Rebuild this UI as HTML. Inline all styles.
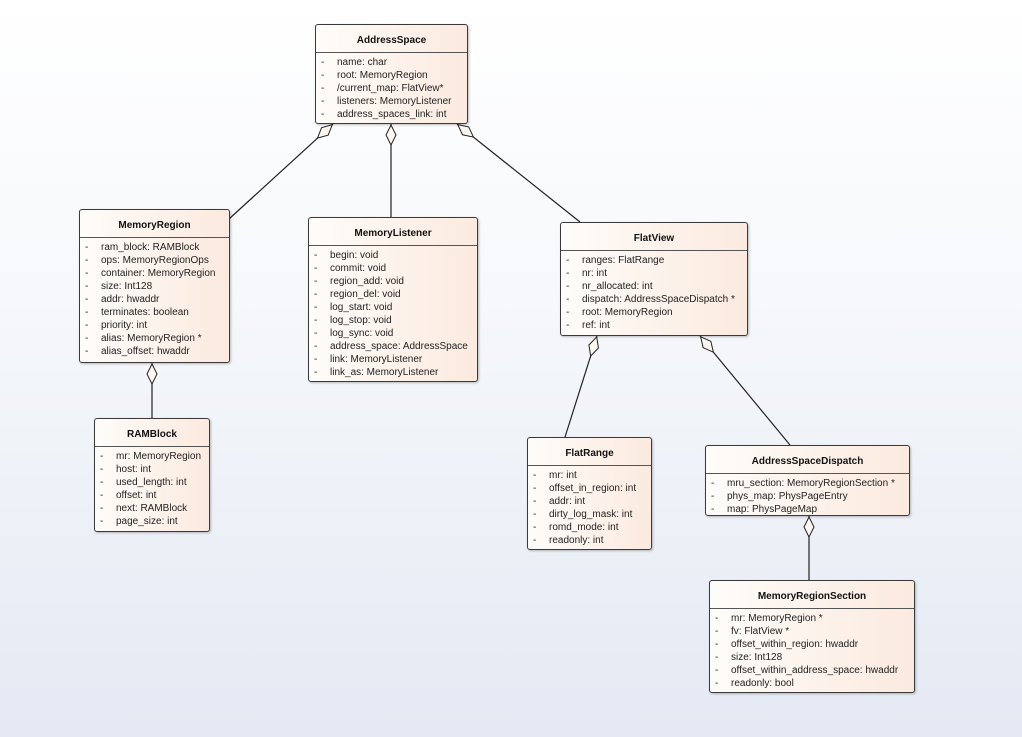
<!DOCTYPE html>
<html><head><meta charset="utf-8"><style>
html,body{margin:0;padding:0}
body{width:1022px;height:737px;position:relative;overflow:hidden;background:linear-gradient(#ffffff 0%,#f6f8fb 40%,#e4e9f3 100%);font-family:"Liberation Sans",sans-serif;}
.b{position:absolute;border:1px solid #3a3a3a;border-radius:3px;background:linear-gradient(90deg,#fefcf9 0%,#fbeadf 100%);box-shadow:1px 1px 2px rgba(0,0,0,.25);box-sizing:border-box;}
.h{height:28px;line-height:12px;padding-top:10px;box-sizing:border-box;text-align:center;font-weight:bold;font-size:10px;border-bottom:1px solid #555;color:#111}
.r{font-size:10px;line-height:13px;color:#222;white-space:nowrap;position:relative;padding-left:21px}
.r:before{content:"-";position:absolute;left:5px}
.rs{padding-top:3px}
svg{position:absolute;left:0;top:0}
</style></head><body>
<svg width="1022" height="737">
<defs><marker id="d" markerUnits="userSpaceOnUse" markerWidth="24" markerHeight="12" refX="0" refY="6" orient="auto" viewBox="0 0 24 12"><path d="M1,6 L11,1 L21,6 L11,11 Z" fill="#fdf7f0" stroke="#222" stroke-width="1"/></marker></defs>
<g stroke="#222" stroke-width="1.2" fill="none">
<path d="M333,124 L229,219" marker-start="url(#d)"/>
<path d="M391,124 L391,217" marker-start="url(#d)"/>
<path d="M457,124 L580,222" marker-start="url(#d)"/>
<path d="M152,363 L152,418" marker-start="url(#d)"/>
<path d="M597,336 L565,437" marker-start="url(#d)"/>
<path d="M700,336 L790,445" marker-start="url(#d)"/>
<path d="M809,516 L809,580" marker-start="url(#d)"/>
</g></svg>

<div class="b" style="left:315px;top:24px;width:153px;height:100px"><div class="h">AddressSpace</div><div class="rs">
<div class="r">name: char</div><div class="r">root: MemoryRegion</div><div class="r">/current_map: FlatView*</div><div class="r">listeners: MemoryListener</div><div class="r">address_spaces_link: int</div></div></div>

<div class="b" style="left:79px;top:209px;width:151px;height:154px"><div class="h">MemoryRegion</div><div class="rs">
<div class="r">ram_block: RAMBlock</div><div class="r">ops: MemoryRegionOps</div><div class="r">container: MemoryRegion</div><div class="r">size: Int128</div><div class="r">addr: hwaddr</div><div class="r">terminates: boolean</div><div class="r">priority: int</div><div class="r">alias: MemoryRegion *</div><div class="r">alias_offset: hwaddr</div></div></div>

<div class="b" style="left:308px;top:217px;width:170px;height:165px"><div class="h">MemoryListener</div><div class="rs">
<div class="r">begin: void</div><div class="r">commit: void</div><div class="r">region_add: void</div><div class="r">region_del: void</div><div class="r">log_start: void</div><div class="r">log_stop: void</div><div class="r">log_sync: void</div><div class="r">address_space: AddressSpace</div><div class="r">link: MemoryListener</div><div class="r">link_as: MemoryListener</div></div></div>

<div class="b" style="left:560px;top:222px;width:188px;height:114px"><div class="h">FlatView</div><div class="rs">
<div class="r">ranges: FlatRange</div><div class="r">nr: int</div><div class="r">nr_allocated: int</div><div class="r">dispatch: AddressSpaceDispatch *</div><div class="r">root: MemoryRegion</div><div class="r">ref: int</div></div></div>

<div class="b" style="left:94px;top:418px;width:116px;height:114px"><div class="h">RAMBlock</div><div class="rs">
<div class="r">mr: MemoryRegion</div><div class="r">host: int</div><div class="r">used_length: int</div><div class="r">offset: int</div><div class="r">next: RAMBlock</div><div class="r">page_size: int</div></div></div>

<div class="b" style="left:527px;top:437px;width:125px;height:113px"><div class="h">FlatRange</div><div class="rs">
<div class="r">mr: int</div><div class="r">offset_in_region: int</div><div class="r">addr: int</div><div class="r">dirty_log_mask: int</div><div class="r">romd_mode: int</div><div class="r">readonly: int</div></div></div>

<div class="b" style="left:705px;top:445px;width:205px;height:71px"><div class="h">AddressSpaceDispatch</div><div class="rs">
<div class="r">mru_section: MemoryRegionSection *</div><div class="r">phys_map: PhysPageEntry</div><div class="r">map: PhysPageMap</div></div></div>

<div class="b" style="left:709px;top:580px;width:206px;height:113px"><div class="h">MemoryRegionSection</div><div class="rs">
<div class="r">mr: MemoryRegion *</div><div class="r">fv: FlatView *</div><div class="r">offset_within_region: hwaddr</div><div class="r">size: Int128</div><div class="r">offset_within_address_space: hwaddr</div><div class="r">readonly: bool</div></div></div>
</body></html>
